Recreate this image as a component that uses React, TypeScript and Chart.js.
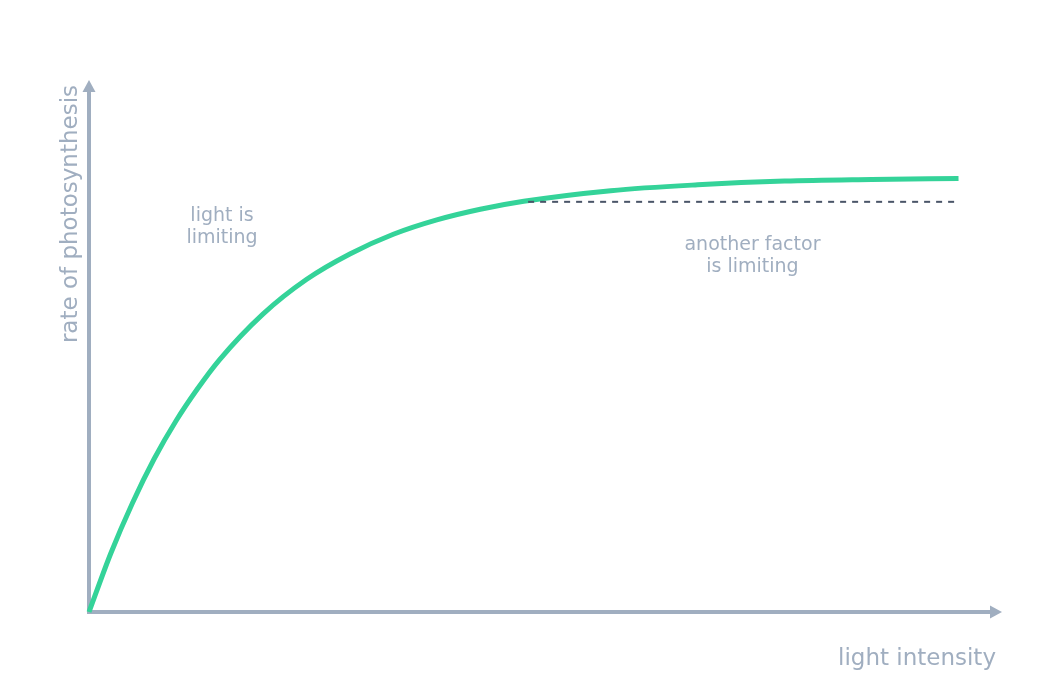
import { useRef, useEffect } from 'react'
import Chart from 'chart.js/auto'

// light intensity (arbitrary units) and rate
const LIGHT = [0, 2.5, 5, 7.5, 10, 12.5, 15, 20, 25, 30, 35, 40, 45, 50, 60, 70, 80, 90, 100]
const RATE = [0, 11.0, 20.5, 28.8, 35.9, 42.0, 47.4, 56.0, 62.5, 67.3, 71.0, 73.7, 75.7, 77.2, 79.2, 80.3, 81.0, 81.3, 81.5]

// dashed "plateau" reference line
const PLATEAU_X = [50.5, 100]
const PLATEAU_Y = 77.1

const X_MAX = 105
const Y_MAX = 100

const AXIS_COLOR = '#a0aec0'
const CURVE_COLOR = '#34d399'
const DASH_COLOR = '#4a5568'
const FONT = '"DejaVu Sans", sans-serif'

const NOTES = [
  { lines: ['light is', 'limiting'], x: 15.3, y: 72.4 },
  { lines: ['another factor', 'is limiting'], x: 76.3, y: 66.9 },
]

const axesPlugin = {
  id: 'arrowAxes',
  beforeDatasetsDraw(chart: Chart) {
    const { ctx, chartArea: a } = chart
    ctx.save()
    ctx.strokeStyle = AXIS_COLOR
    ctx.fillStyle = AXIS_COLOR
    ctx.lineWidth = 4
    ctx.beginPath()
    ctx.moveTo(a.left, a.top + 8)
    ctx.lineTo(a.left, a.bottom)
    ctx.lineTo(a.right - 8, a.bottom)
    ctx.stroke()
    // arrow heads
    ctx.beginPath()
    ctx.moveTo(a.left, a.top)
    ctx.lineTo(a.left - 6.5, a.top + 12)
    ctx.lineTo(a.left + 6.5, a.top + 12)
    ctx.closePath()
    ctx.fill()
    ctx.beginPath()
    ctx.moveTo(a.right, a.bottom)
    ctx.lineTo(a.right - 12, a.bottom - 6.5)
    ctx.lineTo(a.right - 12, a.bottom + 6.5)
    ctx.closePath()
    ctx.fill()
    ctx.restore()
  },
  afterDraw(chart: Chart) {
    const { ctx, chartArea: a, scales } = chart
    ctx.save()
    ctx.fillStyle = AXIS_COLOR
    ctx.font = `23px ${FONT}`
    ctx.textBaseline = 'middle'
    ctx.textAlign = 'right'
    ctx.fillText('light intensity', a.right - 6, a.bottom + 47)
    ctx.translate(a.left - 18, a.top + 5)
    ctx.rotate(-Math.PI / 2)
    ctx.fillText('rate of photosynthesis', 0, 0)
    ctx.restore()

    ctx.save()
    ctx.fillStyle = AXIS_COLOR
    ctx.font = `19px ${FONT}`
    ctx.textAlign = 'center'
    ctx.textBaseline = 'middle'
    NOTES.forEach((n) => {
      const px = scales.x.getPixelForValue(n.x)
      const py = scales.y.getPixelForValue(n.y)
      n.lines.forEach((l, i) => {
        ctx.fillText(l, px, py + (i - (n.lines.length - 1) / 2) * 22)
      })
    })
    ctx.restore()
  },
}

export default function App() {
  const canvasRef = useRef<HTMLCanvasElement>(null)

  useEffect(() => {
    document.body.style.margin = '0'
    if (!canvasRef.current) return
    const chart = new Chart(canvasRef.current, {
      type: 'line',
      data: {
        datasets: [
          {
            data: LIGHT.map((x, i) => ({ x, y: RATE[i] })),
            borderColor: CURVE_COLOR,
            borderWidth: 5,
            pointRadius: 0,
            cubicInterpolationMode: 'monotone',
            clip: false,
            order: 2,
          },
          {
            data: PLATEAU_X.map((x) => ({ x, y: PLATEAU_Y })),
            borderColor: DASH_COLOR,
            borderWidth: 2,
            borderDash: [6, 6],
            pointRadius: 0,
            clip: false,
            order: 1,
          },
        ],
      },
      options: {
        animation: false,
        responsive: false,
        layout: { padding: { left: 89, right: 54, top: 80, bottom: 84 } },
        scales: {
          x: { type: 'linear', min: 0, max: X_MAX, display: false },
          y: { type: 'linear', min: 0, max: Y_MAX, display: false },
        },
        plugins: { legend: { display: false }, tooltip: { enabled: false } },
      },
      plugins: [axesPlugin],
    })
    return () => chart.destroy()
  }, [])

  return (
    <div style={{ width: 1056, height: 696, background: '#fff' }}>
      <canvas ref={canvasRef} width={1056} height={696} style={{ display: 'block' }} />
    </div>
  )
}
